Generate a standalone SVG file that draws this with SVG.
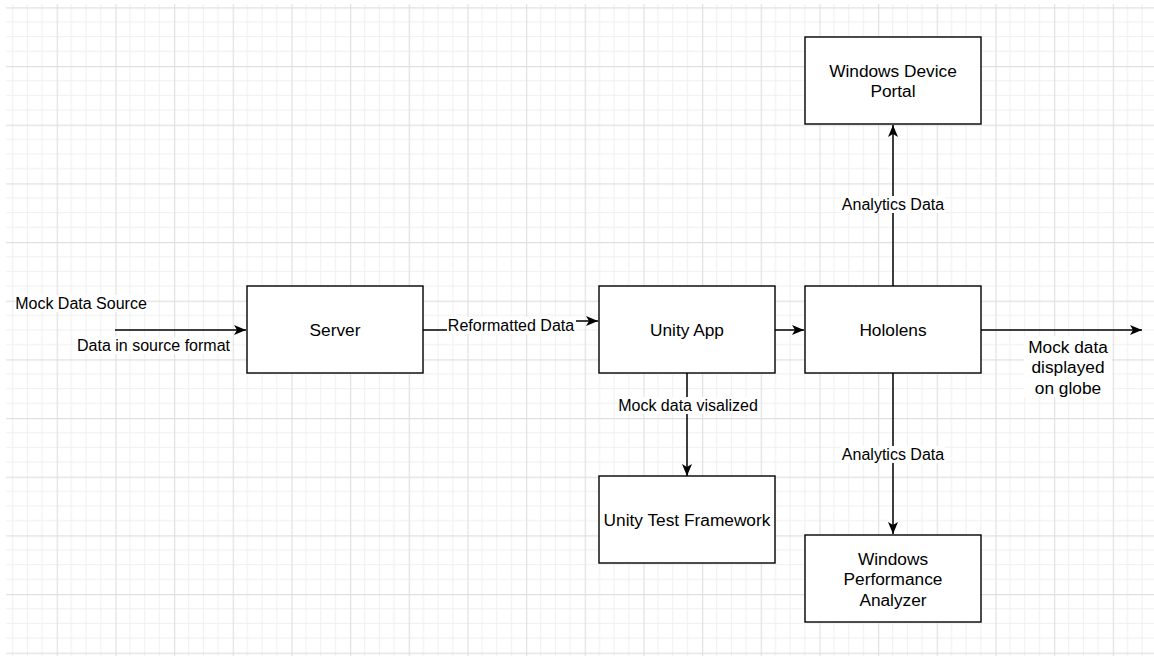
<svg xmlns="http://www.w3.org/2000/svg" width="1154" height="656" viewBox="0 0 1154 656">
  <style>
    .node { fill: #ffffff; stroke: #000000; stroke-width: 1.4; }
    .nl { font-family: "Liberation Sans", Arial, sans-serif; font-size: 17.3px; fill: #000000; text-anchor: middle; }
    .el { font-family: "Liberation Sans", Arial, sans-serif; font-size: 16px; fill: #000000; text-anchor: middle; }
    .edge { fill: none; stroke: #000000; stroke-width: 1.5; }
    .lbg { fill: #ffffff; }
  </style>
  <defs>
    <pattern id="grid" patternUnits="userSpaceOnUse" x="-1.97" y="7.3" width="58.67" height="58.67">
      <rect x="0" y="0" width="58.67" height="58.67" fill="#ffffff"/>
      <g stroke="#f0f0f0" stroke-width="1">
        <line x1="14.67" y1="0" x2="14.67" y2="58.67"/>
        <line x1="29.33" y1="0" x2="29.33" y2="58.67"/>
        <line x1="44" y1="0" x2="44" y2="58.67"/>
        <line x1="0" y1="14.67" x2="58.67" y2="14.67"/>
        <line x1="0" y1="29.33" x2="58.67" y2="29.33"/>
        <line x1="0" y1="44" x2="58.67" y2="44"/>
      </g>
      <g stroke="#e0e0e0" stroke-width="1.3">
        <line x1="0.5" y1="0" x2="0.5" y2="58.67"/>
        <line x1="0" y1="0.5" x2="58.67" y2="0.5"/>
      </g>
    </pattern>
    <marker id="arrow" markerUnits="userSpaceOnUse" markerWidth="14" markerHeight="14" refX="12" refY="6" orient="auto">
      <path d="M0,1 L12,6 L0,11 L3,6 Z" fill="#000000"/>
    </marker>
  </defs>

  <rect x="0" y="0" width="1154" height="656" fill="#ffffff"/>
  <rect x="6" y="4" width="1148" height="652" fill="url(#grid)"/>

  <g id="connectors">
    <path class="edge" d="M115,330 H246" marker-end="url(#arrow)"/>
    <path class="edge" d="M423,330 H511 V321 H598" marker-end="url(#arrow)"/>
    <path class="edge" d="M775,330 H804" marker-end="url(#arrow)"/>
    <path class="edge" d="M981,330 H1142" marker-end="url(#arrow)"/>
    <path class="edge" d="M893,286 V125" marker-end="url(#arrow)"/>
    <path class="edge" d="M893,373 V534" marker-end="url(#arrow)"/>
    <path class="edge" d="M687,373 V476" marker-end="url(#arrow)"/>

    <rect class="lbg" x="15" y="295" width="132" height="17"/>
    <text class="el" x="81" y="309">Mock Data Source</text>
    <rect class="lbg" x="76" y="337" width="155" height="17"/>
    <text class="el" x="153.5" y="351">Data in source format</text>
    <rect class="lbg" x="447" y="317" width="129" height="17"/>
    <text class="el" x="511" y="331">Reformatted Data</text>
    <rect class="lbg" x="618" y="397" width="140" height="17"/>
    <text class="el" x="688" y="411">Mock data visalized</text>
    <rect class="lbg" x="841" y="196" width="104" height="17"/>
    <text class="el" x="893" y="210">Analytics Data</text>
    <rect class="lbg" x="841" y="446" width="104" height="17"/>
    <text class="el" x="893" y="460">Analytics Data</text>
    <rect class="lbg" x="1024" y="336" width="88" height="61"/>
    <text class="nl" x="1068" y="352.5">Mock data</text>
    <text class="nl" x="1068" y="373">displayed</text>
    <text class="nl" x="1068" y="393.5">on globe</text>
  </g>

  <g id="server">
    <rect class="node" x="247" y="286" width="176" height="87"/>
    <text class="nl" x="335" y="336">Server</text>
  </g>
  <g id="unity-app">
    <rect class="node" x="599" y="286" width="176" height="87"/>
    <text class="nl" x="687" y="336">Unity App</text>
  </g>
  <g id="hololens">
    <rect class="node" x="805" y="286" width="176" height="87"/>
    <text class="nl" x="893" y="336">Hololens</text>
  </g>
  <g id="windows-device-portal">
    <rect class="node" x="805" y="37" width="176" height="87"/>
    <text class="nl" x="893" y="77">Windows Device</text>
    <text class="nl" x="893" y="97">Portal</text>
  </g>
  <g id="unity-test-framework">
    <rect class="node" x="599" y="476" width="176" height="87"/>
    <text class="nl" x="687" y="526">Unity Test Framework</text>
  </g>
  <g id="windows-performance-analyzer">
    <rect class="node" x="805" y="535" width="176" height="87"/>
    <text class="nl" x="893" y="565">Windows</text>
    <text class="nl" x="893" y="585">Performance</text>
    <text class="nl" x="893" y="605.5">Analyzer</text>
  </g>
</svg>
